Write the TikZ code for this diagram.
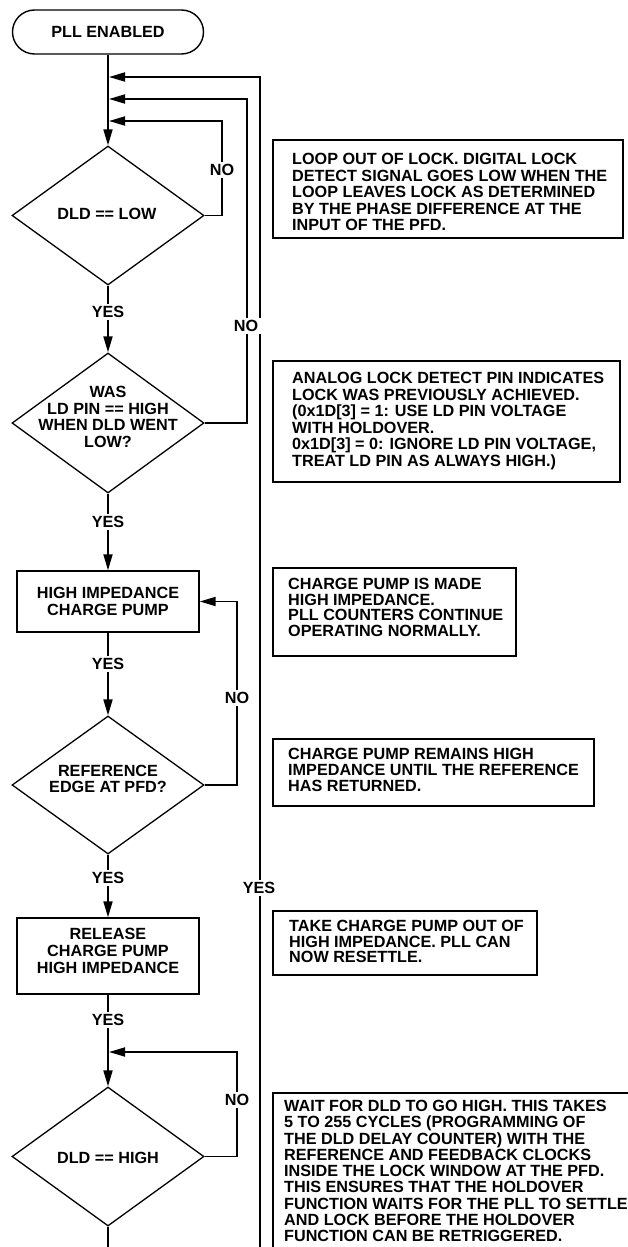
\documentclass[tikz,border=0pt]{standalone}
\usepackage{fontspec}
\setmainfont{Liberation Sans}
\usetikzlibrary{arrows.meta,shapes.geometric}
\begin{document}
\begin{tikzpicture}[x=1pt,y=-1pt,
  lbl/.style={font=\fontsize{16.2}{16.6}\selectfont\bfseries},
  conn/.style={line width=1.8pt},
  arr/.style={conn,-{Triangle[length=16pt,width=9pt]}},
  dia/.style={diamond,draw,line width=1.3pt,inner sep=0pt,minimum width=192pt},
  proc/.style={draw,line width=1.4pt,inner sep=0pt,minimum width=182pt,lbl,align=center},
  startbox/.style={draw,line width=1.4pt,rounded corners=22pt,minimum width=191pt,minimum height=44pt,inner sep=0pt,lbl},
  note/.style={draw,line width=1.5pt,inner sep=0pt,anchor=north west},
  ntext/.style={lbl,anchor=north west,inner sep=0pt,align=left},
  yn/.style={lbl,fill=white,inner sep=2.5pt}
]
\useasboundingbox (0,0) rectangle (628,1247);
\clip (0,0) rectangle (628,1247);

% flow nodes
\node[startbox] (s) at (108,32) {PLL ENABLED};
\node[dia,minimum height=139pt] (d1) at (108,215.5) {};
\node[lbl] (d1t) at (107,214) {DLD == LOW};
\node[dia,minimum height=140pt] (d2) at (108,423) {};
\node[lbl,align=center] (d2t) at (108,417) {WAS\\LD PIN == HIGH\\WHEN DLD WENT\\LOW?};
\node[proc,minimum height=61pt] (b1) at (108,601.5) {HIGH IMPEDANCE\\CHARGE PUMP};
\node[dia,minimum height=138pt] (d3) at (108,785) {};
\node[lbl,align=center] (d3t) at (108,779) {REFERENCE\\EDGE AT PFD?};
\node[proc,minimum height=76pt] (b2) at (108,956) {};
\node[lbl,align=center] (b2t) at (108,951) {RELEASE\\CHARGE PUMP\\HIGH IMPEDANCE};
\node[dia,minimum height=139pt] (d4) at (108,1156.5) {};
\node[lbl] (d4t) at (108,1158) {DLD == HIGH};

% coordinates
\coordinate (j1) at (109,77);
\coordinate (j2) at (109,99);
\coordinate (j3) at (109,121);
\coordinate (j4) at (109,1052);
\coordinate (l1) at (222,121);
\coordinate (l2) at (247,99);
\coordinate (l3) at (260,77);
\coordinate (l4) at (237,601.5);
\coordinate (l5) at (237,1052);
\coordinate (bot) at (108,1262);
\coordinate (obot) at (260,1262);

% connectors
\draw[arr] (s.south) -- (d1.north);
\draw[arr] (d1.south) -- (d2.north);
\draw[arr] (d2.south) -- (b1.north);
\draw[arr] (b1.south) -- (d3.north);
\draw[arr] (d3.south) -- (b2.north);
\draw[arr] (b2.south) -- (d4.north);
\draw[conn] (d4.south) -- (bot);
\draw[arr] (d1.east) -| (l1) -- (j3);
\draw[arr] (d2.east) -| (l2) -- (j2);
\draw[arr] (obot) -- (l3) -- (j1);
\draw[arr] (d3.east) -| (l4) -- (b1.east);
\draw[arr] (d4.east) -| (l5) -- (j4);

% labels
\node[yn] (y1) at (108,312) {YES};
\node[yn] (y2) at (108,522) {YES};
\node[yn] (y3) at (108,664) {YES};
\node[yn] (y4) at (108,878) {YES};
\node[yn] (y5) at (108,1020) {YES};
\node[yn] (y6) at (259,888) {YES};
\node[yn] (n1) at (222,170) {NO};
\node[yn] (n2) at (246,326) {NO};
\node[yn] (n3) at (237,698) {NO};
\node[yn] (n4) at (237,1100) {NO};

% notes
\node[note,minimum width=350pt,minimum height=98pt] (c1) at (272,139) {};
\node[ntext] (c1t) at (292,153) {LOOP OUT OF LOCK. DIGITAL LOCK\\DETECT SIGNAL GOES LOW WHEN THE\\LOOP LEAVES LOCK AS DETERMINED\\BY THE PHASE DIFFERENCE AT THE\\INPUT OF THE PFD.};
\node[note,minimum width=347pt,minimum height=121pt] (c2) at (272,360) {};
\node[ntext] (c2t) at (292,372) {ANALOG LOCK DETECT PIN INDICATES\\LOCK WAS PREVIOUSLY ACHIEVED.\\(0x1D[3] = 1: USE LD PIN VOLTAGE\\WITH HOLDOVER.\\0x1D[3] = 0: IGNORE LD PIN VOLTAGE,\\TREAT LD PIN AS ALWAYS HIGH.)};
\node[note,minimum width=243pt,minimum height=88pt] (c3) at (272,567) {};
\node[ntext,font=\fontsize{16.2}{15.7}\selectfont\bfseries] (c3t) at (288,578) {CHARGE PUMP IS MADE\\HIGH IMPEDANCE.\\PLL COUNTERS CONTINUE\\OPERATING NORMALLY.};
\node[note,minimum width=321pt,minimum height=67pt] (c4) at (272,738) {};
\node[ntext,font=\fontsize{16.2}{16}\selectfont\bfseries] (c4t) at (288,748) {CHARGE PUMP REMAINS HIGH\\IMPEDANCE UNTIL THE REFERENCE\\HAS RETURNED.};
\node[note,minimum width=264pt,minimum height=64pt] (c5) at (272,910) {};
\node[ntext,font=\fontsize{16.2}{15.7}\selectfont\bfseries] (c5t) at (289,920) {TAKE CHARGE PUMP OUT OF\\HIGH IMPEDANCE. PLL CAN\\NOW RESETTLE.};
\node[note,minimum width=380pt,minimum height=200pt] (c6) at (272,1092) {};
\node[ntext,font=\fontsize{16.2}{16.25}\selectfont\bfseries] (c6t) at (284,1100) {WAIT FOR DLD TO GO HIGH. THIS TAKES\\5 TO 255 CYCLES (PROGRAMMING OF\\THE DLD DELAY COUNTER) WITH THE\\REFERENCE AND FEEDBACK CLOCKS\\INSIDE THE LOCK WINDOW AT THE PFD.\\THIS ENSURES THAT THE HOLDOVER\\FUNCTION WAITS FOR THE PLL TO SETTLE\\AND LOCK BEFORE THE HOLDOVER\\FUNCTION CAN BE RETRIGGERED.};
\end{tikzpicture}
\end{document}
